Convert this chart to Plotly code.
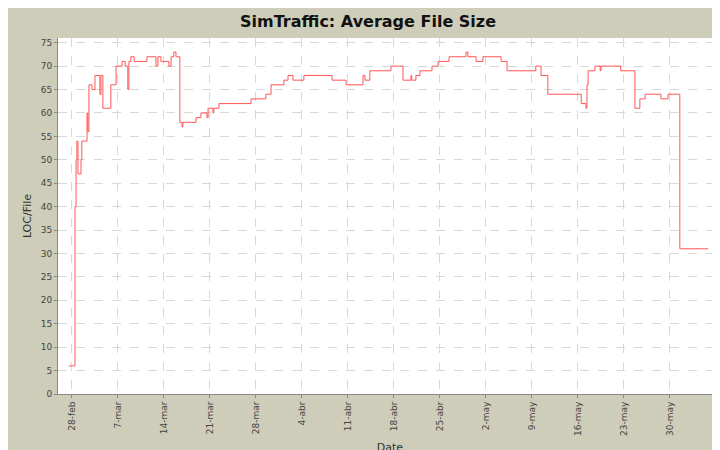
import plotly.graph_objects as go

dates = ["2007-02-27 13:00","2007-02-28 11:00","2007-02-28 15:00","2007-02-28 18:00","2007-02-28 22:00",
"2007-03-01 09:00","2007-03-01 12:00","2007-03-02 07:00","2007-03-02 10:00","2007-03-02 14:00",
"2007-03-03 01:00","2007-03-03 12:00","2007-03-04 06:00","2007-03-04 10:00","2007-03-04 17:00",
"2007-03-05 22:00","2007-03-06 17:00","2007-03-07 15:00","2007-03-08 02:00","2007-03-08 12:00",
"2007-03-08 16:00","2007-03-08 23:00","2007-03-09 11:00","2007-03-11 10:00","2007-03-12 19:00",
"2007-03-13 02:00","2007-03-13 13:00","2007-03-14 18:00","2007-03-15 02:00","2007-03-15 12:00",
"2007-03-15 20:00","2007-03-16 10:00","2007-03-16 18:00","2007-03-16 21:00","2007-03-18 21:00",
"2007-03-19 15:00","2007-03-20 13:00","2007-03-20 17:00","2007-03-21 11:00","2007-03-21 14:00",
"2007-03-22 09:00","2007-03-27 06:00","2007-03-29 12:00","2007-03-30 07:00","2007-04-01 06:00",
"2007-04-01 21:00","2007-04-02 15:00","2007-04-04 07:00","2007-04-08 14:00","2007-04-10 17:00",
"2007-04-13 07:00","2007-04-13 14:00","2007-04-14 08:00","2007-04-17 13:00","2007-04-19 09:00",
"2007-04-20 14:00","2007-04-20 17:00","2007-04-21 08:00","2007-04-21 23:00","2007-04-23 19:00",
"2007-04-24 17:00","2007-04-26 09:00","2007-04-28 23:00","2007-04-29 06:00","2007-04-30 12:00",
"2007-05-01 13:00","2007-05-04 07:00","2007-05-05 05:00","2007-05-09 14:00","2007-05-10 09:00",
"2007-05-11 10:00","2007-05-16 12:00","2007-05-17 05:00","2007-05-17 09:00","2007-05-17 13:00",
"2007-05-18 14:00","2007-05-19 09:00","2007-05-19 12:00","2007-05-22 12:00","2007-05-24 16:00",
"2007-05-25 10:00","2007-05-26 05:00","2007-05-28 15:00","2007-05-29 17:00","2007-05-31 12:00",
"2007-06-04 19:00"]
values = [6,40,50,54,47,
50,54,60,56,66,
65,68,64,68,61,
66,70,71,70,65,
71,72,71,72,70,
72,71,70,72,73,
72,58,57,58,59,
60,59,61,60,61,
62,63,64,66,67,
68,67,68,67,66,
68,67,69,70,67,
68,67,68,69,70,
71,72,73,72,71,
72,71,69,70,68,
64,62,61,66,69,
70,69,70,69,61,
63,64,63,64,31,
31]

tick_vals = ["2007-02-28","2007-03-07","2007-03-14","2007-03-21","2007-03-28","2007-04-04","2007-04-11",
"2007-04-18","2007-04-25","2007-05-02","2007-05-09","2007-05-16","2007-05-23","2007-05-30","2007-06-06"]
tick_text = ["28-feb","7-mar","14-mar","21-mar","28-mar","4-abr","11-abr","18-abr","25-abr",
"2-may","9-may","16-may","23-may","30-may","6-jun"]

fig = go.Figure(go.Scatter(x=dates, y=values, mode="lines", line=dict(shape="hv", color="#ff5555", width=1)))
grid = dict(showgrid=True, gridcolor="#d8d8d8", griddash="dash", gridwidth=1, automargin=False,
            showline=True, linecolor="#888888", ticks="outside", tickcolor="#888888", ticklen=3,
            zeroline=False, tickfont=dict(family="DejaVu Sans", size=9, color="#444"))
fig.update_layout(
    width=720, height=450, paper_bgcolor="#cdcdb9", plot_bgcolor="white",
    margin=dict(l=50, r=6, t=30, b=64), showlegend=False,
    title=dict(text="<b>SimTraffic: Average File Size</b>", x=0.5, xanchor="center", y=0.97, yanchor="middle",
               font=dict(family="DejaVu Sans", size=16, color="#111")),
    xaxis=dict(range=["2007-02-25 21:00","2007-06-06 22:00"], tickvals=tick_vals, ticktext=tick_text,
               tickangle=-90, title=dict(text="Date", standoff=8, font=dict(family="DejaVu Sans", size=11, color="#333")), **grid),
    yaxis=dict(range=[0,76], dtick=5, title=dict(text="LOC/File", standoff=6, font=dict(family="DejaVu Sans", size=11, color="#333")), **grid),
)
fig.write_html("out.html")
